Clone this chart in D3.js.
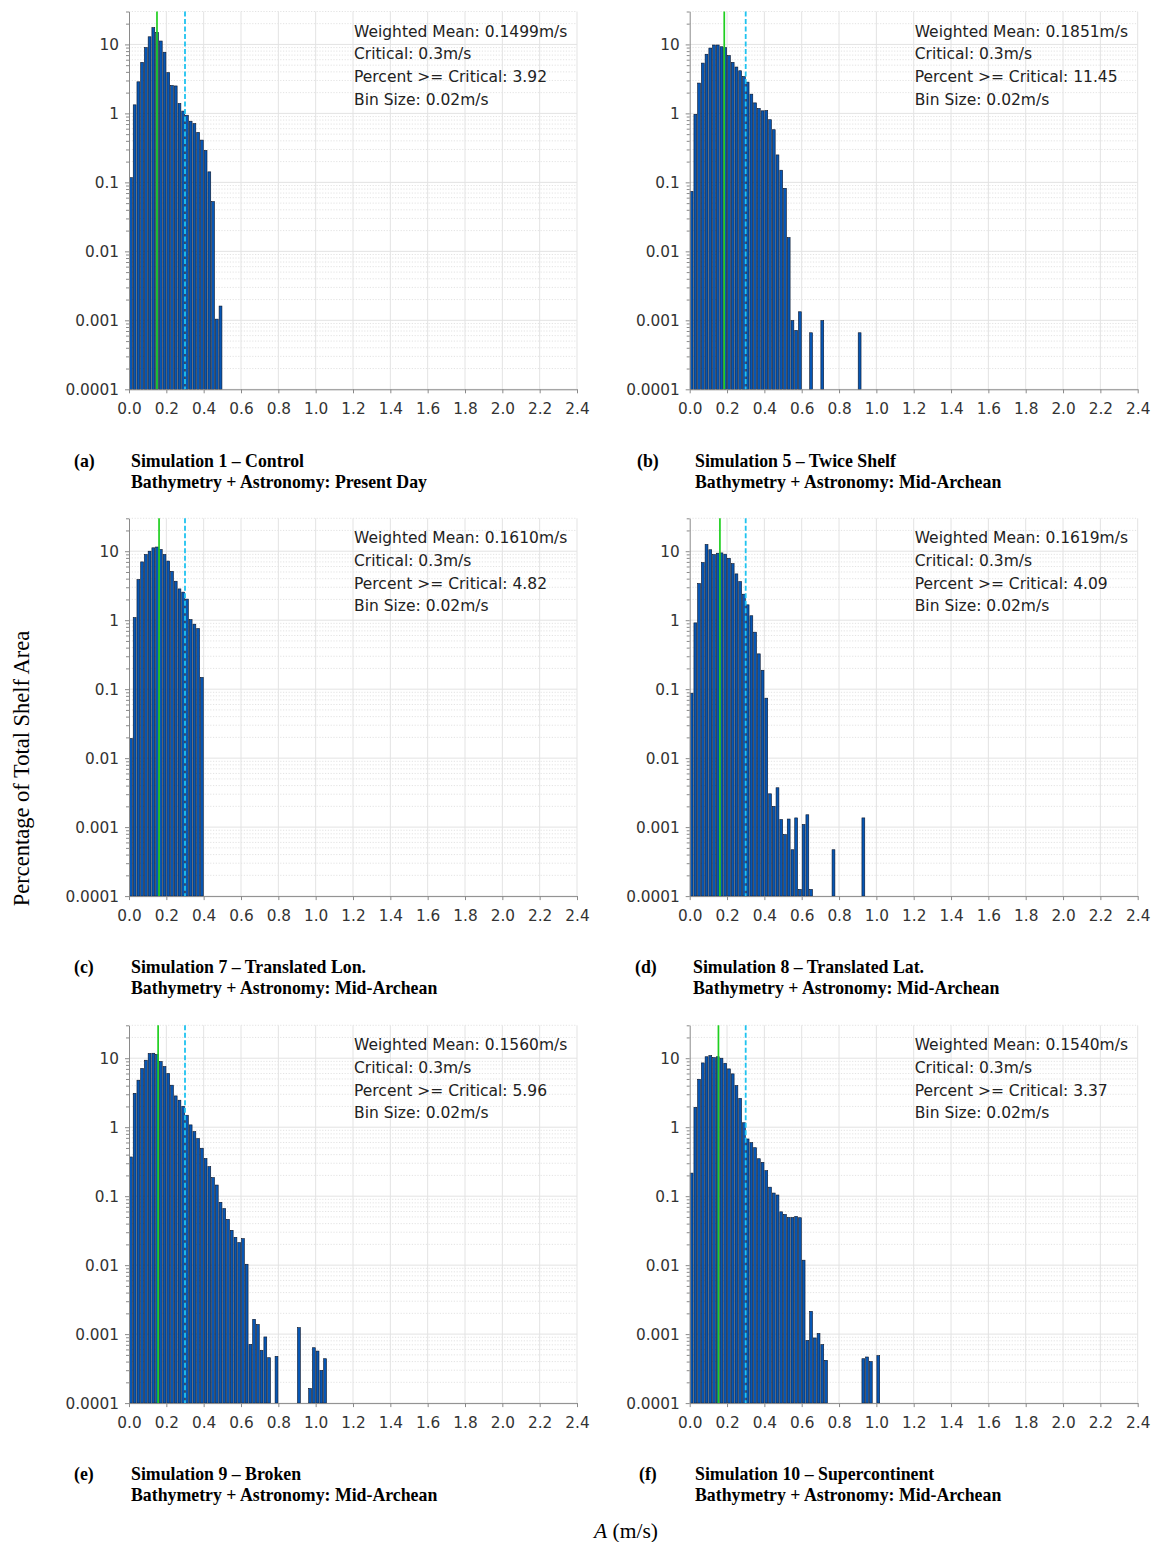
<!DOCTYPE html>
<html>
<head>
<meta charset="utf-8">
<script src="https://cdn.jsdelivr.net/npm/d3@7"></script>
<style>
  body { margin: 0; background: #fff; }
  svg { display: block; }
</style>
</head>
<body>
<svg id="chart" width="1153" height="1542"></svg>
<script>
// Histogram of current speed over shelf area, per simulation (percent per 0.02 m/s bin).
// Bin i covers [i*binSize, (i+1)*binSize); null = empty bin.
const binSize = 0.02;
const critical = 0.3;

const xTicks = [0.0, 0.2, 0.4, 0.6, 0.8, 1.0, 1.2, 1.4, 1.6, 1.8, 2.0, 2.2, 2.4];
const yTicks = [10, 1, 0.1, 0.01, 0.001, 0.0001];
const yTickLabels = ["10", "1", "0.1", "0.01", "0.001", "0.0001"];

const sim1 = [0.117, 1.33, 2.87, 5.5, 9.0, 12.9, 17.5, 14.9, 11.2, 7.7,
  3.9, 2.54, 2.5, 1.39, 1.08, 0.94, 0.77, 0.71, 0.53, 0.41,
  0.29, 0.142, 0.0526, 0.00104, 0.00161];

const sim5 = [0.074, 0.97, 2.75, 5.36, 7.2, 8.85, 9.8, 9.8, 9.25, 9.0,
  6.9, 5.5, 4.7, 4.15, 3.43, 2.84, 1.90, 1.42, 1.18, 1.09,
  1.10, 0.81, 0.58, 0.25, 0.15, 0.082, 0.0158, 0.00099, 0.000715, 0.00133,
  null, null, 0.00066, null, null, 0.00099, null, null, null, null,
  null, null, null, null, null, 0.00066];

const sim7 = [0.0193, 1.09, 3.88, 7.0, 8.95, 10.0, 11.2, 11.5, 10.6, 8.95,
  7.2, 5.1, 3.67, 2.84, 2.55, 2.02, 1.02, 0.875, 0.757, 0.148];

const sim8 = [0.0875, 0.914, 3.4, 6.85, 12.5, 10.5, 8.95, 9.36, 9.45, 9.05,
  7.9, 6.6, 4.69, 3.63, 2.38, 1.67, 1.16, 0.67, 0.325, 0.188,
  0.074, 0.00304, 0.0020, 0.00372, 0.00129, 0.00078, 0.00131, 0.00047, 0.00136, 0.000125,
  0.00109, 0.00151, 0.000125, null, null, null, null, null, 0.00047, null,
  null, null, null, null, null, null, 0.00136];

const sim9 = [0.37, 3.1, 4.8, 7.1, 9.35, 11.7, 11.8, 11.3, 8.95, 7.57,
  6.0, 4.06, 2.84, 2.46, 2.01, 1.49, 1.08, 0.863, 0.684, 0.495,
  0.351, 0.268, 0.186, 0.145, 0.0815, 0.066, 0.0461, 0.032, 0.0253, 0.0212,
  0.0242, 0.0103, 0.00071, 0.00164, 0.00138, 0.00058, 0.00091, 0.000455, null, 0.000475,
  null, null, null, null, null, 0.00124, null, null, 0.000163, 0.000635,
  0.000568, 0.000298, 0.00044];

const sim10 = [0.216, 1.94, 4.95, 8.55, 10.5, 10.9, 10.2, 10.5, 10.0, 8.45,
  7.0, 5.93, 4.01, 2.62, 1.16, 0.675, 0.596, 0.504, 0.349, 0.309,
  0.234, 0.135, 0.111, 0.104, 0.0593, 0.0543, 0.049, 0.049, 0.0508, 0.0487,
  0.0118, 0.00081, 0.00214, 0.00088, 0.00102, 0.000703, 0.000417, null, null, null,
  null, null, null, null, null, null, 0.00044, 0.000466, 0.0004, null,
  0.000487];

const weightedMeans = ["0.1499", "0.1851", "0.1610", "0.1619", "0.1560", "0.1540"];
const percentAboveCritical = ["3.92", "11.45", "4.82", "4.09", "5.96", "3.37"];
const panelLetters = ["(a)", "(b)", "(c)", "(d)", "(e)", "(f)"];
const panelTitles = [
  "Simulation 1 \u2013 Control",
  "Simulation 5 \u2013 Twice Shelf",
  "Simulation 7 \u2013 Translated Lon.",
  "Simulation 8 \u2013 Translated Lat.",
  "Simulation 9 \u2013 Broken",
  "Simulation 10 \u2013 Supercontinent"
];
const panelSubtitles = [
  "Bathymetry + Astronomy: Present Day",
  "Bathymetry + Astronomy: Mid-Archean",
  "Bathymetry + Astronomy: Mid-Archean",
  "Bathymetry + Astronomy: Mid-Archean",
  "Bathymetry + Astronomy: Mid-Archean",
  "Bathymetry + Astronomy: Mid-Archean"
];
const series = [sim1, sim5, sim7, sim8, sim9, sim10];

// ---- layout ----
const colX = [129, 689.7];
const rowTop = [11.5, 518.3, 1025.3];
const plotW = 448, plotH = 377.8;
const captionX = [[74, 131], [637, 695], [74, 131], [635, 693], [74, 131], [639, 695]];

const svg = d3.select("#chart");
const sansFont = "'DejaVu Sans', Verdana, sans-serif";
const serifFont = "'Liberation Serif', 'Times New Roman', serif";

series.forEach((vals, i) => {
  const col = i % 2, row = Math.floor(i / 2);
  const ox = colX[col], oy = rowTop[row];
  const g = svg.append("g").attr("transform", `translate(${ox},${oy})`);

  const x = d3.scaleLinear().domain([0, 2.4]).range([0, plotW]);
  const y = d3.scaleLog().domain([1e-4, 30]).range([plotH, 0]);

  // minor horizontal grid (dotted)
  const minor = [];
  for (let e = -4; e <= 1; e++) {
    for (let m = 2; m <= 9; m++) {
      const v = m * Math.pow(10, e);
      if (v <= 30) minor.push(v);
    }
  }
  g.append("g").selectAll("line").data(minor).join("line")
    .attr("x1", 0).attr("x2", plotW)
    .attr("y1", d => y(d)).attr("y2", d => y(d))
    .attr("stroke", "#dcdcdc").attr("stroke-width", 0.8)
    .attr("stroke-dasharray", "1.2,1.6");

  // major grid
  g.append("g").selectAll("line").data(yTicks).join("line")
    .attr("x1", 0).attr("x2", plotW)
    .attr("y1", d => y(d)).attr("y2", d => y(d))
    .attr("stroke", "#e3e3e3").attr("stroke-width", 1);
  g.append("g").selectAll("line").data(xTicks.slice(1)).join("line")
    .attr("x1", d => x(d)).attr("x2", d => x(d))
    .attr("y1", 0).attr("y2", plotH)
    .attr("stroke", "#e3e3e3").attr("stroke-width", 1);

  // bars
  const bins = vals.map((v, k) => ({ k, v })).filter(d => d.v != null);
  const bw = x(binSize) - x(0);
  g.append("g").selectAll("rect").data(bins).join("rect")
    .attr("x", d => x(d.k * binSize) + 0.5)
    .attr("width", bw - 0.9)
    .attr("y", d => y(d.v))
    .attr("height", d => plotH - y(d.v))
    .attr("fill", "#0656b4")
    .attr("stroke", "#0a1428")
    .attr("stroke-width", 0.6);

  // weighted mean and critical speed lines
  const mean = +weightedMeans[i];
  g.append("line")
    .attr("x1", x(mean)).attr("x2", x(mean))
    .attr("y1", 0).attr("y2", plotH)
    .attr("stroke", "#1fcf1f").attr("stroke-width", 1.7);
  g.append("line")
    .attr("x1", x(critical)).attr("x2", x(critical))
    .attr("y1", 0).attr("y2", plotH)
    .attr("stroke", "#1fc3f0").attr("stroke-width", 1.8)
    .attr("stroke-dasharray", "5,2.5");

  // axes
  const xAxis = d3.axisBottom(x).tickValues(xTicks).tickFormat(d3.format(".1f"))
    .tickSize(4).tickSizeOuter(0);
  const gx = g.append("g").attr("transform", `translate(0,${plotH})`).call(xAxis);
  gx.select(".domain").attr("stroke", "#8a8a8a");
  gx.selectAll(".tick line").attr("stroke", "#8a8a8a");
  gx.selectAll(".tick text")
    .attr("font-family", sansFont).attr("font-size", 15.3)
    .attr("fill", "#333").attr("y", 10).attr("dy", "0.95em");

  const yAxis = d3.axisLeft(y).tickValues(yTicks)
    .tickFormat((d, k) => yTickLabels[k]).tickSize(4).tickSizeOuter(0);
  const gy = g.append("g").call(yAxis);
  gy.select(".domain").attr("stroke", "#8a8a8a");
  gy.selectAll(".tick line").attr("stroke", "#8a8a8a");
  gy.selectAll(".tick text")
    .attr("font-family", sansFont).attr("font-size", 15.3)
    .attr("fill", "#333").attr("x", -10);

  // minor y ticks
  const yMinor = d3.axisLeft(y).tickValues(minor).tickFormat("").tickSize(3).tickSizeOuter(0);
  const gym = g.append("g").call(yMinor);
  gym.select(".domain").remove();
  gym.selectAll(".tick line").attr("stroke", "#8a8a8a");

  // statistics box
  const stats = [
    `Weighted Mean: ${weightedMeans[i]}m/s`,
    `Critical: ${critical}m/s`,
    `Percent >= Critical: ${percentAboveCritical[i]}`,
    `Bin Size: ${binSize}m/s`
  ];
  g.append("g").selectAll("text").data(stats).join("text")
    .attr("x", 225)
    .attr("y", (d, k) => 25 + k * 22.7)
    .attr("font-family", sansFont).attr("font-size", 15.5)
    .attr("fill", "#222")
    .text(d => d);

  // caption
  const cap = svg.append("g")
    .attr("font-family", serifFont).attr("font-weight", "bold")
    .attr("font-size", 17.8).attr("fill", "#000");
  cap.append("text").attr("x", captionX[i][0]).attr("y", oy + 455).text(panelLetters[i]);
  cap.append("text").attr("x", captionX[i][1]).attr("y", oy + 455).text(panelTitles[i]);
  cap.append("text").attr("x", captionX[i][1]).attr("y", oy + 476).text(panelSubtitles[i]);
});

// shared axis titles
svg.append("text")
  .attr("transform", "translate(29,768.5) rotate(-90)")
  .attr("text-anchor", "middle")
  .attr("font-family", serifFont).attr("font-size", 22.5)
  .attr("fill", "#000")
  .text("Percentage of Total Shelf Area");

const xt = svg.append("text")
  .attr("x", 626).attr("y", 1538)
  .attr("text-anchor", "middle")
  .attr("font-family", serifFont).attr("font-size", 21.5)
  .attr("fill", "#000");
xt.append("tspan").attr("font-style", "italic").text("A");
xt.append("tspan").text(" (m/s)");
</script>
</body>
</html>
